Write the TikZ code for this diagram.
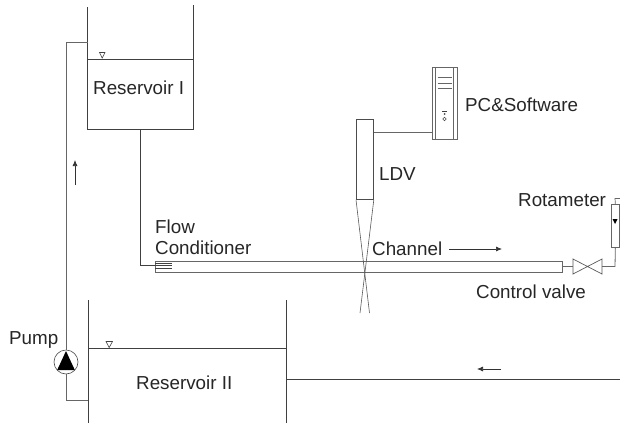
\documentclass[tikz,border=0pt]{standalone}
\usepackage{fontspec}
\setmainfont{Liberation Sans}
\usetikzlibrary{arrows.meta}
\tikzset{
  wall/.style={draw=black!75,line width=0.9pt},
  thin wall/.style={draw=black!60,line width=0.8pt},
  flow/.style={draw=black!80,line width=0.7pt,-{Latex[length=6pt,width=5pt]}},
  lbl/.style={font=\fontsize{18.8}{20}\selectfont,text=black!85,inner sep=0pt,anchor=base west},
  lvl/.style={draw=black!75,line width=0.6pt,fill=white}
}
\begin{document}
\begin{tikzpicture}[x=1pt,y=-1pt]
\useasboundingbox (0,0) rectangle (620,423);
% Named points
\coordinate (r1tl) at (87.5,7); \coordinate (r1bl) at (87.5,129);
\coordinate (r1tr) at (193,5);  \coordinate (r1br) at (193,129);
\coordinate (r2tl) at (88,300); \coordinate (r2bl) at (88,423);
\coordinate (r2tr) at (286,300);\coordinate (r2br) at (286,423);
\coordinate (p2) at (87.5,42);
\coordinate (p4) at (88,400);
\coordinate (o1) at (140,129); \coordinate (o2) at (140,265);
\coordinate (ret1) at (286,379); \coordinate (ret2) at (620,379);
% Reservoir I
\draw[wall] (r1tl) -- (r1bl) -- (r1br) -- (r1tr);
\draw[wall] (87.5,59) -- (193,59);
\draw[lvl] (99.5,52.5) -- (105,52.5) -- (102.2,58) -- cycle;
% Reservoir II
\draw[wall] (r2tl) -- (r2bl);
\draw[wall] (r2tr) -- (r2br);
\draw[wall] (88,348) -- (286,348);
\draw[lvl] (106,341.5) -- (112.5,341.5) -- (109.2,347.5) -- cycle;
% Pump
\node[circle,draw=black!70,line width=0.6pt,fill=white,minimum size=24pt,inner sep=0pt] (pump) at (66,362) {};
\fill[black] (66,351) -- (74.8,370) -- (57.2,370) -- cycle;
\draw[thin wall] (pump.north) -- (66,42) -- (p2);
\draw[thin wall] (pump.south) -- (66,400) -- (p4);
% Channel
\node[draw=black!60,line width=0.8pt,fill=white,minimum width=407pt,minimum height=11pt,inner sep=0pt,anchor=north west] (channel) at (155,261) {};
\draw[wall] (o1) -- (o2) -- (155,265);
\foreach \yy in {263,265.5,268} \draw[black!75,line width=0.6pt] (155,\yy) -- (172,\yy);
% LDV
\node[draw=black!70,line width=0.8pt,fill=white,minimum width=17pt,minimum height=80pt,inner sep=0pt,anchor=north west] (ldv) at (356,119) {};
\draw[black!65,line width=0.6pt] (ldv.south west) -- (369.5,313);
\draw[black!65,line width=0.6pt] (ldv.south east) -- (360,313);
% PC
\node[draw=black!60,line width=0.8pt,fill=white,minimum width=25pt,minimum height=72pt,inner sep=0pt,anchor=north west] (pc) at (432,67) {};
\draw[black!60,line width=0.7pt] (435.5,67) -- (435.5,139) (453.5,67) -- (453.5,139);
\draw[black!60,line width=0.6pt] (437.5,77.5) -- (451.5,77.5) (437.5,83) -- (451.5,83) (437.5,88) -- (451.5,88);
\draw[black!75,line width=0.5pt] (442,111) -- (447,111);
\fill[black!70] (444.5,114) circle (1pt);
\draw[black!70,line width=0.5pt] (444.5,119) circle (1.8pt);
\draw[thin wall] (ldv.east |- 0,132) -- (pc.west |- 0,132);
% Valve
\coordinate (v) at (587.5,266.5);
\draw[black!65,line width=0.7pt,fill=white] (573,259) -- (602,274) -- (602,259) -- (573,274) -- cycle;
\draw[thin wall] (channel.east |- v) -- (573,266.5);
% Rotameter
\node[draw=black!60,line width=0.7pt,fill=white,minimum width=8pt,minimum height=43pt,inner sep=0pt,anchor=north west] (rot) at (611,204) {};
\fill[black] (612.5,219) -- (617.5,219) -- (615,224) -- cycle;
\draw[thin wall] (602,266.5) -- (615,266.5) -- (rot.south);
\draw[black!60,line width=0.7pt] (rot.north) -- (615,198.5) -- (620,198.5);
% Return
\draw[wall] (ret1) -- (ret2);
% Arrows
\coordinate (a1) at (75,185); \coordinate (a2) at (75,160);
\coordinate (a3) at (449,249); \coordinate (a4) at (502,249);
\coordinate (a5) at (501,369); \coordinate (a6) at (477,369);
\draw[flow] (a1) -- (a2);
\draw[flow] (a3) -- (a4);
\draw[flow] (a5) -- (a6);
% Labels
\node[lbl] (t1) at (93,94) {Reservoir I};
\node[lbl] (t2) at (136,389) {Reservoir II};
\node[lbl] (t3) at (155,233) {Flow};
\node[lbl] (t4) at (155,254) {Conditioner};
\node[lbl] (t5) at (372,255) {Channel};
\node[lbl] (t6) at (379,180) {LDV};
\node[lbl] (t7) at (465,111) {PC\&Software};
\node[lbl] (t8) at (518,206) {Rotameter};
\node[lbl] (t9) at (476,298) {Control valve};
\node[lbl] (t10) at (9,344) {Pump};
\end{tikzpicture}
\end{document}
